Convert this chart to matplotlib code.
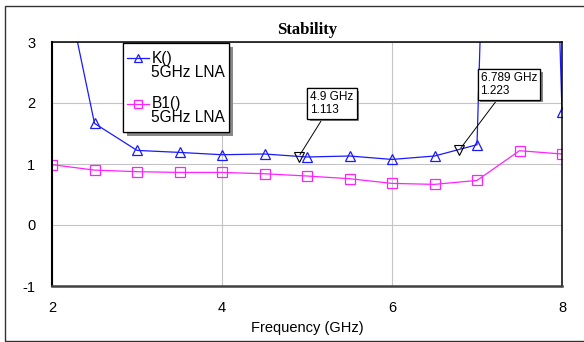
import matplotlib.pyplot as plt
import matplotlib.patheffects as pe
from matplotlib.patches import Rectangle
from matplotlib.lines import Line2D

# Data
freq = [2.0, 2.5, 3.0, 3.5, 4.0, 4.5, 5.0, 5.5, 6.0, 6.5, 7.0, 7.5, 8.0]
k_vals = [5.0, 1.666, 1.223, 1.19, 1.152, 1.164, 1.115, 1.131, 1.075, 1.131, 1.316, 25.0, 1.857]
b1_vals = [0.989, 0.90, 0.874, 0.862, 0.862, 0.84, 0.803, 0.759, 0.682, 0.666, 0.731, 1.218, 1.164]
marker_freq = [4.9, 6.789]
marker_val = [1.113, 1.223]
marker_text = ["4.9 GHz\n1.113", "6.789 GHz\n1.223"]
marker_box = [(5.294, 1.993), (7.373, 2.305)]

plt.rcParams['font.family'] = ['Liberation Sans', 'DejaVu Sans']
plt.rcParams['axes.unicode_minus'] = False

fig = plt.figure(figsize=(5.84, 3.42), dpi=100)
ax = fig.add_axes([52 / 584, 56 / 342, 510 / 584, 244 / 342])

# outer frame
fig.patches.append(Rectangle((5 / 584, 1 / 342), 1.2, 335 / 342, transform=fig.transFigure,
                             fill=False, edgecolor='#333333', lw=1))

blue = '#1a1aff'
mag = '#ff22ff'
ax.plot(freq, k_vals, color=blue, lw=0.9, marker='^', ms=7, mfc='none', mec=blue, mew=0.9)
ax.plot(freq, b1_vals, color=mag, lw=0.9, marker='s', ms=6.5, mfc='none', mec=mag, mew=0.9)
ax.plot(marker_freq, marker_val, ls='none', marker='v', ms=7, mfc='none', mec='black', mew=0.8)

for f, v, t, (bx, by) in zip(marker_freq, marker_val, marker_text, marker_box):
    an = ax.annotate(t, xy=(f, v), xytext=(bx, by), textcoords='data', fontsize=8.5,
                     ha='center', va='center', multialignment='left', linespacing=1.05,
                     bbox=dict(boxstyle='square,pad=0.25', fc='white', ec='black', lw=0.9),
                     arrowprops=dict(arrowstyle='-', color='black', lw=0.7, shrinkA=0, shrinkB=2))
    an.get_bbox_patch().set_path_effects([pe.withSimplePatchShadow(offset=(2, -2),
                                          shadow_rgbFace='#888888', alpha=1), pe.Normal()])

ax.set_xlim(2, 8)
ax.set_ylim(-1, 3)
ax.set_xticks([2, 4, 6, 8])
ax.set_yticks([-1, 0, 1, 2, 3])
ax.tick_params(length=0, labelsize=10.5)
ax.tick_params(axis='y', pad=12)
ax.tick_params(axis='x', pad=11)
ax.grid(True, color='#c4c4c4', lw=0.8)
ax.set_axisbelow(True)

ax.spines['left'].set_linewidth(1.5)
ax.spines['bottom'].set_linewidth(1.8)
ax.spines['bottom'].set_color('#404040')
ax.spines['top'].set_linewidth(1.1)
ax.spines['right'].set_linewidth(1.1)

ax.set_title("Stability", fontfamily='Liberation Serif', fontweight='bold', fontsize=12, pad=6)
ax.set_xlabel("Frequency (GHz)", fontsize=10.5, labelpad=4)

# legend drawn by hand
leg = Rectangle((0.139, 0.632), 0.208, 0.363, transform=ax.transAxes, fc='white',
                ec='black', lw=0.9, zorder=5)
leg.set_path_effects([pe.withSimplePatchShadow(offset=(3, -3), shadow_rgbFace='#888888', alpha=1),
                      pe.Normal()])
ax.add_patch(leg)
for yy, col, mk, name in [(0.933, blue, '^', 'K()'), (0.747, mag, 's', 'B1()')]:
    ax.add_line(Line2D([0.147, 0.19], [yy, yy], transform=ax.transAxes, color=col, lw=0.9,
                       zorder=6))
    ax.add_line(Line2D([0.1685], [yy], transform=ax.transAxes, marker=mk, ms=6, mfc='none',
                       mec=col, mew=0.9, zorder=6))
    ax.text(0.195, yy, name, transform=ax.transAxes, fontsize=11.2, va='center', zorder=7)
    ax.text(0.195, yy - 0.058, "5GHz LNA", transform=ax.transAxes, fontsize=11.2, va='center',
            zorder=7)

fig.savefig("out.png", dpi=100)
